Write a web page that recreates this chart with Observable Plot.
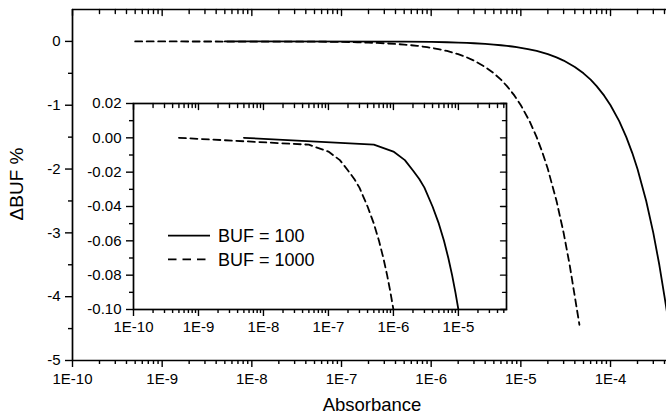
<!DOCTYPE html>
<html><head><meta charset="utf-8">
<script src="https://cdn.jsdelivr.net/npm/d3@7"></script>
<script src="https://cdn.jsdelivr.net/npm/@observablehq/plot@0.6"></script>
<style>
html,body{margin:0;padding:0;background:#fff;}
#wrap{position:relative;width:666px;height:415px;overflow:hidden;font-family:"Liberation Sans",Arial,sans-serif;background:#fff;}
#wrap svg{position:absolute;}
</style></head><body><div id="wrap"></div>
<script>
// ---- data ----
const absorbance100 = [5e-9, 5e-7, 1e-6, 1.5e-6, 2e-6, 2.5e-6, 3e-6, 4e-6, 5e-6, 6e-6, 7e-6, 8e-6, 9e-6, 1e-5, 1.2e-5, 1.5e-5, 2e-5, 2.5e-5, 3e-5, 4e-5, 5e-5, 6e-5, 7e-5, 8.5e-5, 1e-4, 1.25e-4, 1.5e-4, 1.75e-4, 2e-4, 2.5e-4, 3e-4, 3.5e-4, 4e-4, 4.5e-4];
const dBuf100       = [0, -0.004, -0.008, -0.013, -0.019, -0.024, -0.029, -0.04, -0.05, -0.06, -0.07, -0.08, -0.09, -0.1, -0.12, -0.15, -0.2, -0.25, -0.3, -0.4, -0.5, -0.6, -0.7, -0.85, -1.0, -1.25, -1.5, -1.75, -2.0, -2.5, -3.0, -3.5, -4.0, -4.45];
const absorbance1000 = [5e-10, 5e-8, 1e-7, 1.5e-7, 2e-7, 2.5e-7, 3e-7, 4e-7, 5e-7, 6e-7, 7e-7, 8e-7, 9e-7, 1e-6, 1.2e-6, 1.5e-6, 2e-6, 2.5e-6, 3e-6, 4e-6, 5e-6, 6e-6, 7e-6, 8.5e-6, 1e-5, 1.25e-5, 1.5e-5, 1.75e-5, 2e-5, 2.5e-5, 3e-5, 3.5e-5, 4e-5, 4.5e-5];
const dBuf1000       = [0, -0.004, -0.008, -0.013, -0.019, -0.024, -0.029, -0.04, -0.05, -0.06, -0.07, -0.08, -0.09, -0.1, -0.12, -0.15, -0.2, -0.25, -0.3, -0.4, -0.5, -0.6, -0.7, -0.85, -1.0, -1.25, -1.5, -1.75, -2.0, -2.5, -3.0, -3.5, -4.0, -4.44];
const seriesLabels = ["BUF = 100", "BUF = 1000"];
const mainXTicks = [1e-10, 1e-9, 1e-8, 1e-7, 1e-6, 1e-5, 1e-4];
const mainYTicks = [0, -1, -2, -3, -4, -5];
const insetXTicks = [1e-10, 1e-9, 1e-8, 1e-7, 1e-6, 1e-5];
const insetYTicks = [0.02, 0.00, -0.02, -0.04, -0.06, -0.08, -0.10];
const xTitle = "Absorbance";
const yTitle = "ΔBUF %";

const s100 = absorbance100.map((a, i) => ({a, v: dBuf100[i]}));
const s1000 = absorbance1000.map((a, i) => ({a, v: dBuf1000[i]}));

const FONT = '"Liberation Sans", Arial, sans-serif';
const fmtE = d => "1E" + Math.round(Math.log10(d));
function logMinor(lo, hi) {
  const out = [];
  for (let e = -11; e <= -3; e++) for (let m = 2; m <= 9; m++) {
    const v = m * Math.pow(10, e);
    if (v > lo * 1.0001 && v < hi * 0.9999) out.push(v);
  }
  return out;
}
function linMinor(majors) {
  const out = [];
  for (let i = 0; i < majors.length - 1; i++) out.push((majors[i] + majors[i + 1]) / 2);
  return out;
}
const inwardShape = {draw(ctx, l) { ctx.moveTo(0, 0); ctx.lineTo(0, -l); }};
const blank = () => "";

const wrap = document.getElementById("wrap");

// ---- main plot ----
const mainXDomain = [1e-10, 4.21e-4];
const mainYDomain = [-5, 0.5];
const mainXMinor = logMinor(mainXDomain[0], mainXDomain[1]);
const mainYMinor = linMinor(mainYTicks);

const main = Plot.plot({
  width: 666, height: 415,
  marginLeft: 72, marginRight: 0, marginTop: 9, marginBottom: 55,
  style: {fontFamily: FONT, fontSize: "15px", color: "#000", background: "transparent", overflow: "visible"},
  x: {type: "log", domain: mainXDomain},
  y: {domain: mainYDomain},
  marks: [
    Plot.ruleX([mainXDomain[0]], {strokeWidth: 1.7}),
    Plot.ruleY([mainYDomain[0]], {strokeWidth: 1.7}),
    Plot.ruleY([mainYDomain[1]], {strokeWidth: 1.7}),
    Plot.axisX(mainXTicks, {anchor: "bottom", tickSize: 7, tickPadding: 6, tickFormat: fmtE, strokeWidth: 1.4, label: null, fontSize: 15}),
    Plot.axisX(mainXMinor, {anchor: "bottom", tickSize: 4, tickFormat: blank, strokeWidth: 1.4, label: null}),
    Plot.axisY(mainYTicks, {anchor: "left", tickSize: 7, tickPadding: 5, tickFormat: d => String(d), strokeWidth: 1.4, label: null, fontSize: 15}),
    Plot.axisY(mainYMinor, {anchor: "left", tickSize: 4, tickFormat: blank, strokeWidth: 1.4, label: null}),
    Plot.vector(mainXTicks, {x: d => d, frameAnchor: "top", length: 6, rotate: 180, anchor: "start", shape: inwardShape, strokeWidth: 1.4}),
    Plot.vector(mainXMinor, {x: d => d, frameAnchor: "top", length: 4, rotate: 180, anchor: "start", shape: inwardShape, strokeWidth: 1.4}),
    Plot.line(s1000, {x: "a", y: "v", stroke: "#000", strokeWidth: 1.8, strokeDasharray: "7,4.5"}),
    Plot.line(s100, {x: "a", y: "v", stroke: "#000", strokeWidth: 1.8})
  ]
});
main.style.left = "0px"; main.style.top = "0px";
wrap.appendChild(main);

// ---- inset plot ----
const insetXDomain = [1e-10, 5.5e-5];
const insetYDomain = [-0.10, 0.02];
const insetXMinor = logMinor(insetXDomain[0], insetXDomain[1]);
const insetYMinor = linMinor(insetYTicks);

const inset = Plot.plot({
  width: 427, height: 250,
  marginLeft: 53, marginRight: 1, marginTop: 10, marginBottom: 34,
  style: {fontFamily: FONT, fontSize: "15px", color: "#000", background: "transparent", overflow: "visible"},
  x: {type: "log", domain: insetXDomain},
  y: {domain: insetYDomain},
  marks: [
    Plot.frame({strokeWidth: 1.7}),
    Plot.axisX(insetXTicks, {anchor: "bottom", tickSize: 7, tickPadding: 5, tickFormat: fmtE, strokeWidth: 1.4, label: null, fontSize: 15}),
    Plot.axisX(insetXMinor, {anchor: "bottom", tickSize: 4, tickFormat: blank, strokeWidth: 1.4, label: null}),
    Plot.axisY(insetYTicks, {anchor: "left", tickSize: 7, tickPadding: 5, tickFormat: d => d.toFixed(2), strokeWidth: 1.4, label: null, fontSize: 15}),
    Plot.axisY(insetYMinor, {anchor: "left", tickSize: 4, tickFormat: blank, strokeWidth: 1.4, label: null}),
    Plot.vector(insetXTicks, {x: d => d, frameAnchor: "top", length: 6, rotate: 180, anchor: "start", shape: inwardShape, strokeWidth: 1.4}),
    Plot.vector(insetXMinor, {x: d => d, frameAnchor: "top", length: 4, rotate: 180, anchor: "start", shape: inwardShape, strokeWidth: 1.4}),
    Plot.vector(insetYTicks, {y: d => d, frameAnchor: "right", length: 6, rotate: -90, anchor: "start", shape: inwardShape, strokeWidth: 1.4}),
    Plot.vector(insetYMinor, {y: d => d, frameAnchor: "right", length: 4, rotate: -90, anchor: "start", shape: inwardShape, strokeWidth: 1.4}),
    Plot.line(s1000, {x: "a", y: "v", stroke: "#000", strokeWidth: 1.8, strokeDasharray: "7,4.5", clip: true}),
    Plot.line(s100, {x: "a", y: "v", stroke: "#000", strokeWidth: 1.8, clip: true})
  ]
});
inset.style.left = "80px"; inset.style.top = "93px";
wrap.appendChild(inset);

// ---- titles and legend overlay ----
const ov = d3.select(wrap).append("svg")
  .attr("width", 666).attr("height", 415)
  .style("left", "0px").style("top", "0px")
  .style("font-family", FONT);
ov.append("text").attr("x", 372).attr("y", 410.5).attr("text-anchor", "middle")
  .attr("font-size", 18.5).text(xTitle);
ov.append("text").attr("transform", "translate(23,184) rotate(-90)").attr("text-anchor", "middle")
  .attr("font-size", 19).text(yTitle);
const leg = [{label: seriesLabels[0], dash: null, y: 235.7}, {label: seriesLabels[1], dash: "8.5,6", y: 259.3}];
leg.forEach(l => {
  ov.append("line").attr("x1", 168).attr("x2", 210).attr("y1", l.y).attr("y2", l.y)
    .attr("stroke", "#000").attr("stroke-width", 1.8).attr("stroke-dasharray", l.dash);
  ov.append("text").attr("x", 218).attr("y", l.y + 6.5).attr("font-size", 18).text(l.label);
});
</script></body></html>
